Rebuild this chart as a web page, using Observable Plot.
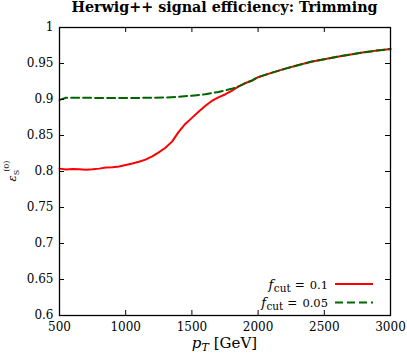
<!DOCTYPE html>
<html><head><meta charset="utf-8">
<script src="https://cdn.jsdelivr.net/npm/d3@7"></script>
<script src="https://cdn.jsdelivr.net/npm/@observablehq/plot@0.6"></script>
<style>
body{margin:0;background:#fff}
#chart{width:407px;height:357px}
#chart svg text{font-family:"DejaVu Serif"}
</style>
</head><body><div id="chart"></div>
<script>
const title = "Herwig++ signal efficiency: Trimming";
const xTicks = [500, 1000, 1500, 2000, 2500, 3000];
const yTicks = [0.6, 0.65, 0.7, 0.75, 0.8, 0.85, 0.9, 0.95, 1];
const legendCuts = ["0.1", "0.05"];

// f_cut = 0.1 (red, solid)
const pTRed = [500, 550, 600, 650, 700, 750, 800, 850, 900, 950, 1000, 1050, 1100, 1150, 1200, 1250, 1300, 1350, 1400, 1450, 1500, 1550, 1600, 1650, 1700, 1750, 1800, 1850, 1900, 1950, 2000, 2100, 2200, 2300, 2400, 2500, 2600, 2700, 2800, 2900, 3000];
const effRed = [0.804, 0.8028, 0.8035, 0.803, 0.8025, 0.803, 0.804, 0.8055, 0.806, 0.807, 0.809, 0.811, 0.8135, 0.8165, 0.821, 0.8265, 0.833, 0.8415, 0.855, 0.866, 0.8745, 0.883, 0.891, 0.898, 0.903, 0.907, 0.912, 0.918, 0.9225, 0.926, 0.931, 0.937, 0.9425, 0.9475, 0.9525, 0.956, 0.9595, 0.9625, 0.9655, 0.968, 0.970];

// f_cut = 0.05 (green, dashed)
const pTGreen = [500, 550, 600, 700, 800, 900, 1000, 1100, 1200, 1300, 1400, 1500, 1600, 1700, 1800, 1850, 1900, 1950, 2000, 2100, 2200, 2300, 2400, 2500, 2600, 2700, 2800, 2900, 3000];
const effGreen = [0.8995, 0.9025, 0.9025, 0.9025, 0.902, 0.902, 0.9022, 0.9022, 0.9025, 0.9028, 0.9038, 0.9052, 0.9072, 0.9105, 0.9148, 0.918, 0.9225, 0.926, 0.931, 0.937, 0.9425, 0.9475, 0.9525, 0.956, 0.9595, 0.9625, 0.9655, 0.968, 0.970];

const W = 407, H = 357, mL = 59, mR = 17, mT = 27, mB = 42;
const pw = W - mL - mR, ph = H - mT - mB;
const serif = "DejaVu Serif";
const redColor = "#ff0000", greenColor = "#006400";

const red = pTRed.map((x, i) => ({pT: x, eff: effRed[i]}));
const green = pTGreen.map((x, i) => ({pT: x, eff: effGreen[i]}));

const plot = Plot.plot({
  width: W, height: H,
  marginLeft: mL, marginRight: mR, marginTop: mT, marginBottom: mB,
  style: {fontFamily: serif, fontSize: "12px", background: "white", color: "black", overflow: "visible"},
  x: {type: "linear", domain: [500, 3000], label: null},
  y: {type: "linear", domain: [0.6, 1], label: null},
  marks: [
    Plot.line(red, {x: "pT", y: "eff", stroke: redColor, strokeWidth: 2}),
    Plot.line(green, {x: "pT", y: "eff", stroke: greenColor, strokeWidth: 2, strokeDasharray: "8,4"}),
    Plot.tickX(xTicks, {x: d => d, insetTop: ph - 5, stroke: "black", strokeWidth: 1}),
    Plot.tickX(xTicks, {x: d => d, insetBottom: ph - 5, stroke: "black", strokeWidth: 1}),
    Plot.tickY(yTicks, {y: d => d, insetRight: pw - 5, stroke: "black", strokeWidth: 1}),
    Plot.tickY(yTicks, {y: d => d, insetLeft: pw - 5, stroke: "black", strokeWidth: 1}),
    Plot.frame({stroke: "black", strokeWidth: 1.3}),
    Plot.axisX(xTicks, {tickSize: 0, tickPadding: 7, tickFormat: d => String(d), fontSize: 12}),
    Plot.axisY(yTicks, {tickSize: 0, tickPadding: 6, tickFormat: d => String(+d.toFixed(2)), fontSize: 12})
  ]
});

const svg = d3.select(plot);

// title
svg.append("text")
  .attr("x", mL + pw / 2).attr("y", 12)
  .attr("text-anchor", "middle").attr("fill", "black")
  .style("font-family", serif).style("font-weight", "bold").style("font-size", "14.3px")
  .text(title);

// y label: epsilon_S^(0)
const yl = svg.append("text")
  .attr("transform", `translate(16,${mT + ph / 2}) rotate(-90)`)
  .attr("text-anchor", "middle").attr("fill", "black")
  .style("font-family", serif).style("font-size", "11.5px");
yl.append("tspan").style("font-style", "italic").text("ε");
yl.append("tspan").attr("dy", 3).style("font-size", "8px").text("S");
yl.append("tspan").attr("dx", -2).attr("dy", -10.5).style("font-size", "8px").text("(0)");

// x label: p_T [GeV]
const xl = svg.append("text")
  .attr("x", mL + pw / 2).attr("y", H - 9)
  .attr("text-anchor", "middle").attr("fill", "black")
  .style("font-family", serif).style("font-size", "15px");
xl.append("tspan").style("font-style", "italic").text("p");
xl.append("tspan").attr("dy", 3).style("font-size", "11px").style("font-style", "italic").text("T");
xl.append("tspan").attr("dy", -3).attr("dx", 5).text("[GeV]");

// legend
const legendColors = [redColor, greenColor];
const legendDash = [null, "8,4"];
legendCuts.forEach((c, i) => {
  const yy = H - mB - 31 + i * 18.5;
  const t = svg.append("text")
    .attr("x", W - mR - 62).attr("y", yy + 4.5)
    .attr("text-anchor", "end").attr("fill", "black")
    .style("font-family", serif).style("font-size", "12px");
  t.append("tspan").style("font-style", "italic").style("font-size", "13px").text("f");
  t.append("tspan").attr("dy", 3).attr("dx", 0.5).style("font-size", "10.5px").text("cut");
  t.append("tspan").attr("dy", -3).attr("dx", 4).text("=");
  t.append("tspan").attr("dx", 5).style("font-size", "11.5px").text(c);
  const ln = svg.append("line")
    .attr("x1", W - mR - 55).attr("x2", W - mR - 17)
    .attr("y1", yy).attr("y2", yy)
    .attr("stroke", legendColors[i]).attr("stroke-width", 2);
  if (legendDash[i]) ln.attr("stroke-dasharray", legendDash[i]);
});

document.getElementById("chart").appendChild(plot);
</script>
</body></html>
